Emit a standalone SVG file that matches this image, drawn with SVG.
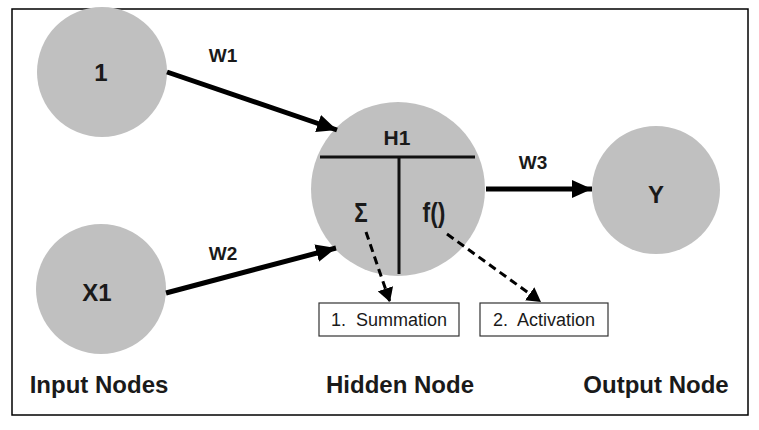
<svg xmlns="http://www.w3.org/2000/svg" width="759" height="430" viewBox="0 0 759 430">
<defs>
<style>
.node{fill:#c0c0c0}
.lbl{font-family:"Liberation Sans",Arial,sans-serif;font-weight:bold;fill:#1a1a1a;text-anchor:middle}
.box{fill:#fff;stroke:#333;stroke-width:1.2}
.btxt{font-family:"Liberation Sans",Arial,sans-serif;font-size:18px;fill:#1a1a1a;text-anchor:middle}
.thick{stroke:#000;stroke-width:5;fill:none}
.dash{stroke:#000;stroke-width:3;stroke-dasharray:8 5;fill:none}
.div{stroke:#111;stroke-width:3}
</style>
<marker id="ah" markerUnits="userSpaceOnUse" markerWidth="22" markerHeight="18" refX="20" refY="9" orient="auto">
<path d="M0,0 L20,9 L0,18 Z" fill="#000"/>
</marker>
<marker id="ad" markerUnits="userSpaceOnUse" markerWidth="16" markerHeight="16" refX="14" refY="8" orient="auto">
<path d="M0,0 L14,8 L0,16 Z" fill="#000"/>
</marker>
</defs>
<rect x="12" y="9" width="736" height="406" fill="#fff" stroke="#000" stroke-width="1.5"/>
<g id="node-1">
<circle class="node" cx="102" cy="72" r="65"/>
<text class="lbl" x="101" y="81" font-size="24">1</text>
</g>
<g id="node-x1">
<circle class="node" cx="101" cy="289" r="65"/>
<text class="lbl" x="97" y="301" font-size="24">X1</text>
</g>
<g id="node-h1">
<circle class="node" cx="398" cy="189" r="87"/>
<line class="div" x1="320" y1="157" x2="475" y2="157"/>
<line class="div" x1="399" y1="157" x2="399" y2="274"/>
<text class="lbl" x="397" y="145" font-size="21">H1</text>
<text class="lbl" x="361" y="222" font-size="28" font-weight="normal" transform="translate(361 0) scale(0.8 1) translate(-361 0)">Σ</text>
<text class="lbl" x="434" y="222" font-size="27" font-weight="normal" transform="translate(434 0) scale(0.85 1) translate(-434 0)">f()</text>
</g>
<g id="node-y">
<circle class="node" cx="656" cy="190" r="64"/>
<text class="lbl" x="656" y="203" font-size="24">Y</text>
</g>
<g id="box-summation">
<rect class="box" x="319" y="303" width="140" height="33"/>
<text class="btxt" x="389" y="326">1.&#160; Summation</text>
</g>
<g id="box-activation">
<rect class="box" x="480" y="303" width="128" height="33"/>
<text class="btxt" x="544" y="326">2.&#160; Activation</text>
</g>
<g id="connectors">
<line class="thick" x1="167" y1="72" x2="337" y2="130" marker-end="url(#ah)"/>
<line class="thick" x1="166" y1="293" x2="336" y2="248" marker-end="url(#ah)"/>
<line class="thick" x1="486" y1="189" x2="592" y2="189" marker-end="url(#ah)"/>
<line class="dash" x1="366" y1="232" x2="390" y2="302" marker-end="url(#ad)"/>
<line class="dash" x1="447" y1="234" x2="541" y2="302" marker-end="url(#ad)"/>
<text class="lbl" x="223" y="62" font-size="19">W1</text>
<text class="lbl" x="223" y="260" font-size="19">W2</text>
<text class="lbl" x="533" y="169" font-size="19">W3</text>
</g>
<g id="captions">
<text class="lbl" x="99" y="393" font-size="24">Input Nodes</text>
<text class="lbl" x="400" y="393" font-size="24">Hidden Node</text>
<text class="lbl" x="656" y="393" font-size="24">Output Node</text>
</g>
</svg>
